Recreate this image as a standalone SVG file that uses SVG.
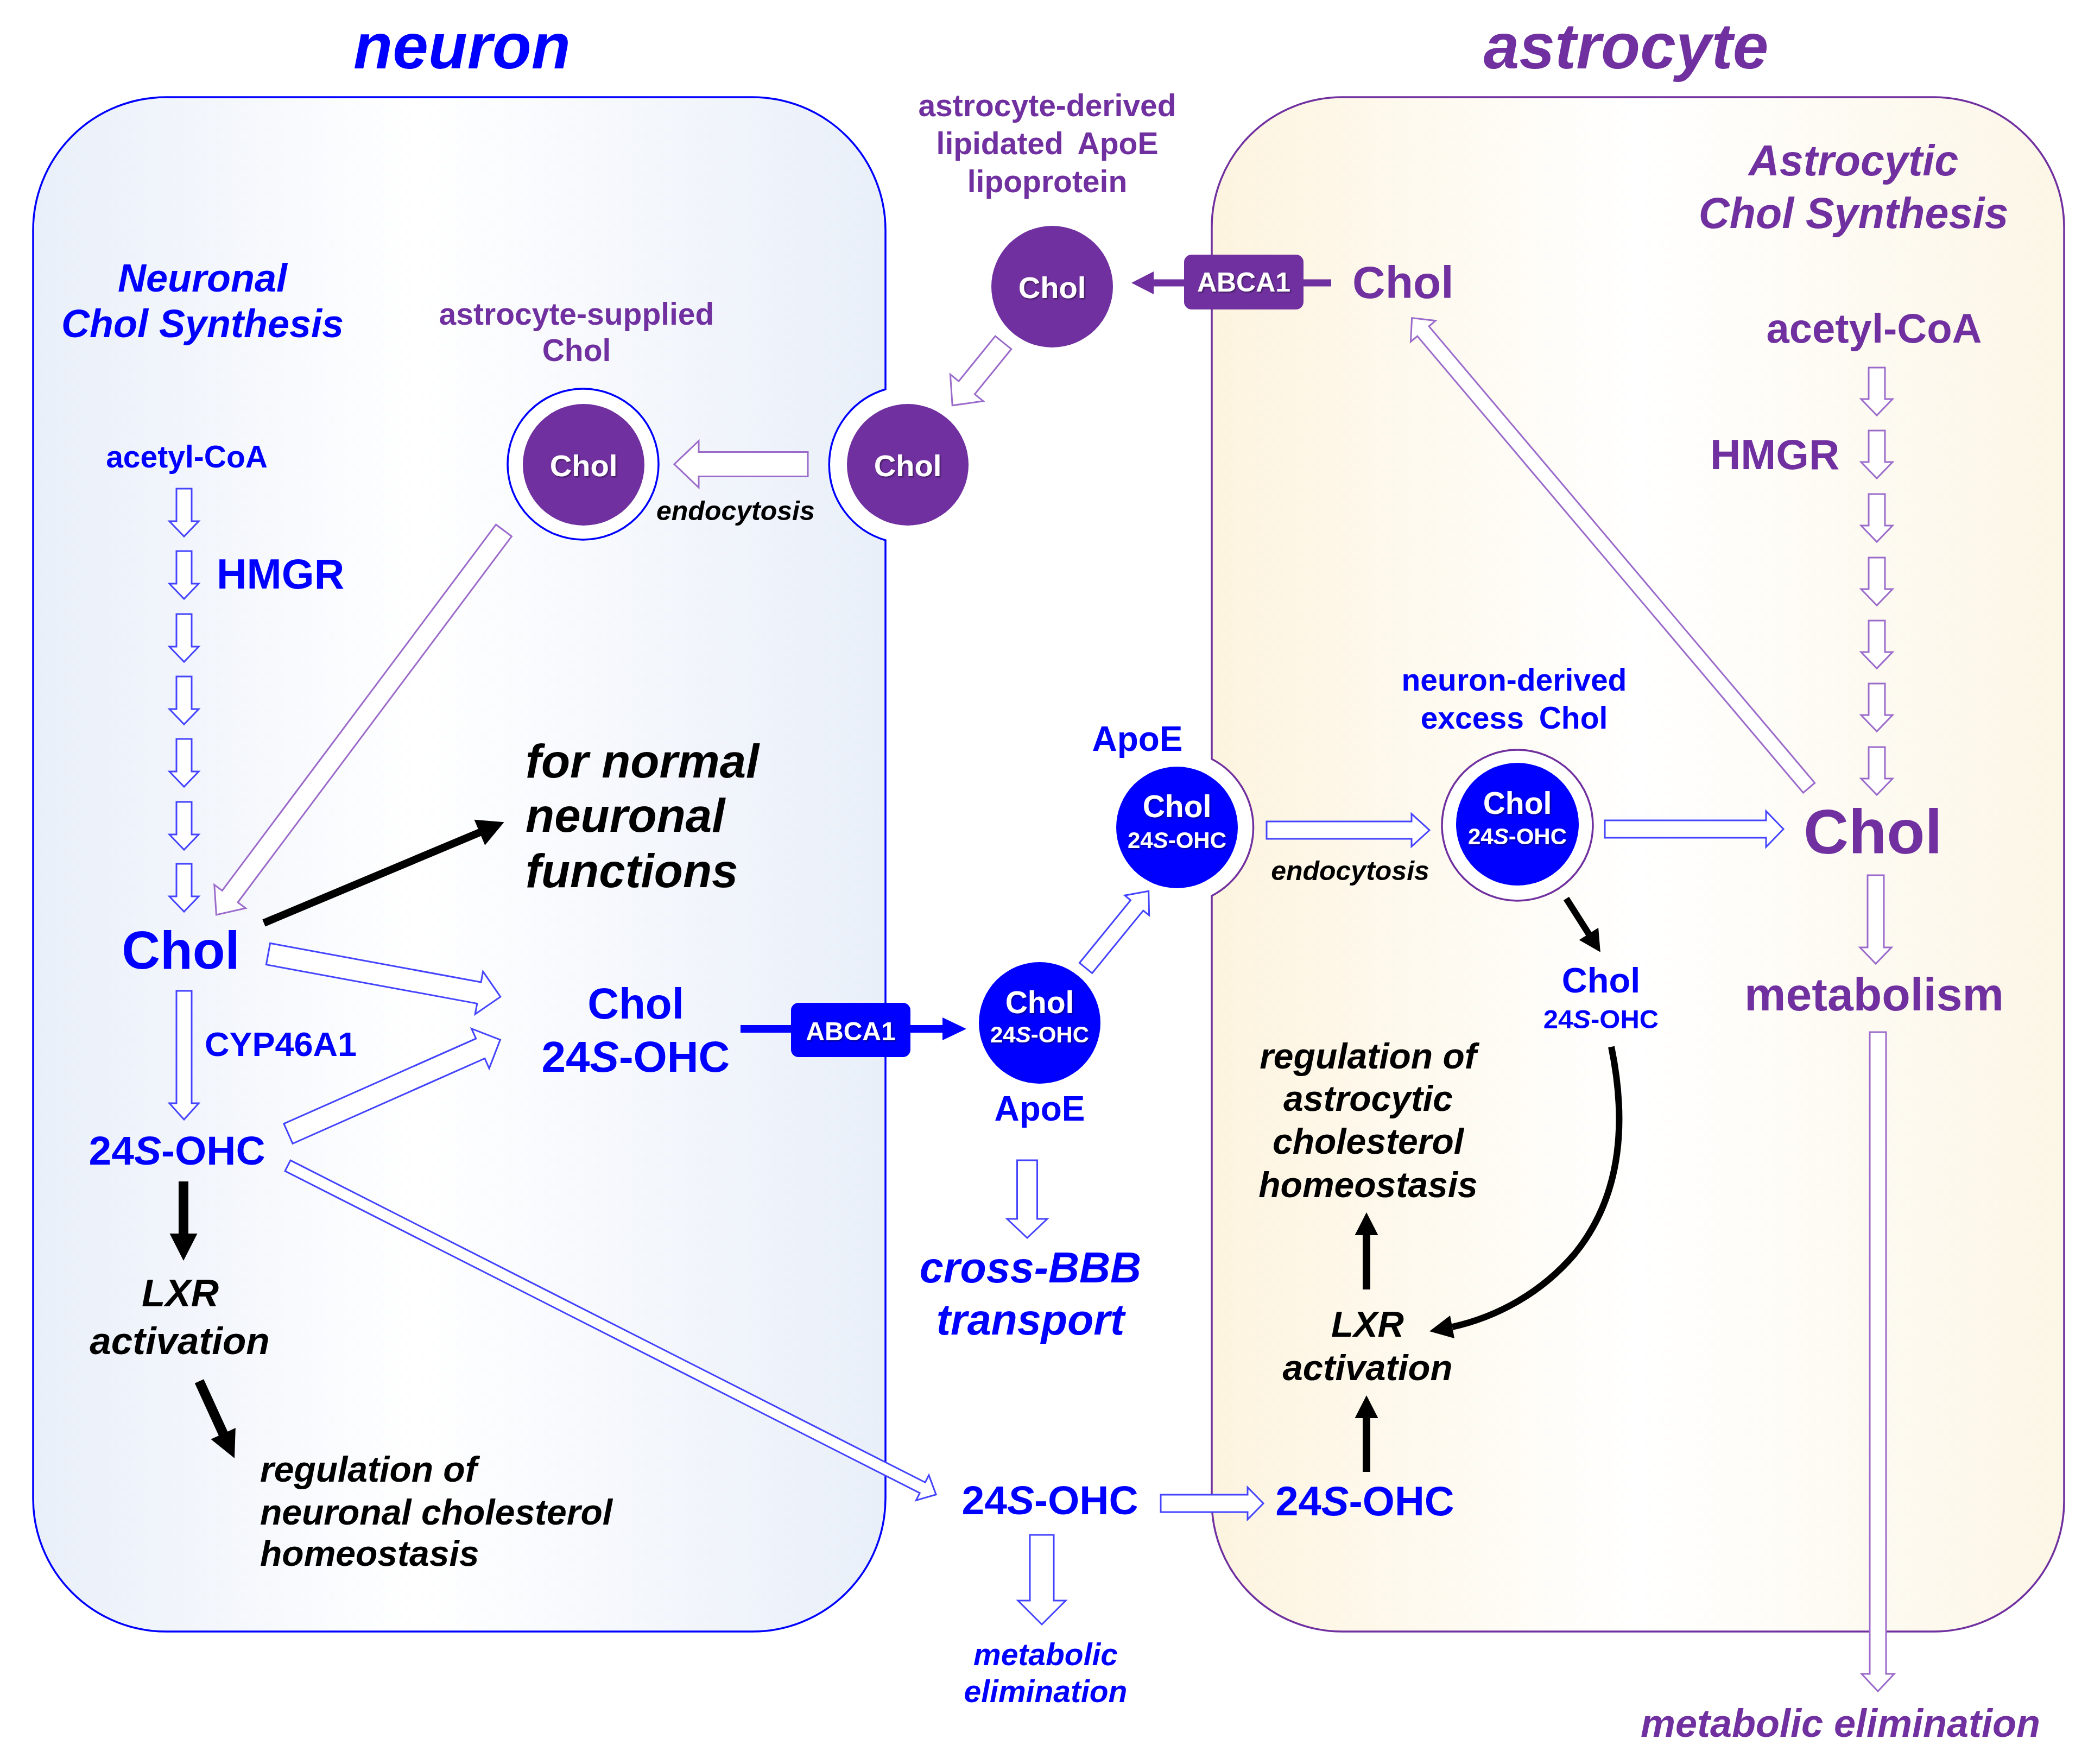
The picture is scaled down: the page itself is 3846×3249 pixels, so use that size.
<svg xmlns="http://www.w3.org/2000/svg" width="3846" height="3249" viewBox="0 0 3846 3249">
<defs>
<style>
.t{font-family:"Liberation Sans",Arial,Helvetica,sans-serif;font-weight:bold}
.i{font-style:italic}
.b{fill:#0000ff}.p{fill:#7030a0}.k{fill:#000}.w{fill:#fff}
.m{text-anchor:middle}
.hb{fill:#fff;stroke:#4444ff;stroke-width:3}
.hp{fill:#fff;stroke:#9b6bcb;stroke-width:3}
.sk{fill:#000}
</style>
<linearGradient id="gN" x1="0" y1="0" x2="1" y2="0">
<stop offset="0" stop-color="#e9eff9"/><stop offset="0.45" stop-color="#ffffff"/><stop offset="1" stop-color="#e9eff9"/>
</linearGradient>
<linearGradient id="gA" x1="0" y1="0" x2="1" y2="0">
<stop offset="0" stop-color="#fdf4df"/><stop offset="0.5" stop-color="#ffffff"/><stop offset="1" stop-color="#fcf6e6"/>
</linearGradient>
<filter id="sh" x="-10%" y="-10%" width="130%" height="130%">
<feDropShadow dx="2" dy="2" stdDeviation="1.5" flood-color="#000" flood-opacity="0.45"/>
</filter>
<path id="sa" d="M0,-14H60V-27L88,0L60,27V14H0Z"/>
<path id="sb" d="M0,-15H58V-29L88,0L58,29V15H0Z"/>
</defs>

<g id="neuron-cell">
<path d="M306,179 H1386 A245,245 0 0 1 1631,424 V717 A145,145 0 0 0 1631,995 V2760 A245,245 0 0 1 1386,3005 H306 A245,245 0 0 1 61,2760 V424 A245,245 0 0 1 306,179 Z" fill="url(#gN)" stroke="#0000ff" stroke-width="3.5"/>
<text class="t i b m" x="851" y="126" font-size="118">neuron</text>
</g>
<g id="astrocyte-cell">
<path d="M2472,179 H3562 A240,240 0 0 1 3802,419 V2765 A240,240 0 0 1 3562,3005 H2472 A240,240 0 0 1 2232,2765 V1650 A142,142 0 0 0 2232,1398 V419 A240,240 0 0 1 2472,179 Z" fill="url(#gA)" stroke="#7030a0" stroke-width="3.5"/>
<text class="t i p m" x="2995" y="126" font-size="118">astrocyte</text>
</g>

<g id="connectors">
<!-- neuron synthesis chain -->
<use href="#sa" class="hb" transform="translate(339,900) rotate(90)"/>
<use href="#sa" class="hb" transform="translate(339,1015) rotate(90)"/>
<use href="#sa" class="hb" transform="translate(339,1131) rotate(90)"/>
<use href="#sa" class="hb" transform="translate(339,1246) rotate(90)"/>
<use href="#sa" class="hb" transform="translate(339,1361) rotate(90)"/>
<use href="#sa" class="hb" transform="translate(339,1477) rotate(90)"/>
<use href="#sa" class="hb" transform="translate(339,1591) rotate(90)"/>
<!-- astrocyte synthesis chain -->
<use href="#sb" class="hp" transform="translate(3457,677) rotate(90)"/>
<use href="#sb" class="hp" transform="translate(3457,793) rotate(90)"/>
<use href="#sb" class="hp" transform="translate(3457,910) rotate(90)"/>
<use href="#sb" class="hp" transform="translate(3457,1027) rotate(90)"/>
<use href="#sb" class="hp" transform="translate(3457,1143) rotate(90)"/>
<use href="#sb" class="hp" transform="translate(3457,1259) rotate(90)"/>
<use href="#sb" class="hp" transform="translate(3457,1376) rotate(90)"/>
<!-- CYP46A1 -->
<path class="hb" transform="translate(339,1825) rotate(90)" d="M0,-14H207V-27L237,0L207,27V14H0Z"/>
<!-- Chol -> Chol/24S -->
<path class="hb" transform="translate(494,1757) rotate(10.46)" d="M0,-20H395V-40L435,0L395,40V20H0Z"/>
<!-- 24S -> Chol/24S -->
<path class="hb" transform="translate(531,2088) rotate(-23.9)" d="M0,-20H387V-40L427,0L387,40V20H0Z"/>
<!-- 24S -> outside 24S -->
<path class="hb" transform="translate(530,2147) rotate(26.9)" d="M0,-11H1311V-26L1339,0L1311,26V11H0Z"/>
<!-- neuron ring -> Chol -->
<path class="hp" transform="translate(928,977) rotate(126.8)" d="M0,-18H842V-36L884,0L842,36V18H0Z"/>
<!-- top Chol -> membrane Chol -->
<path class="hp" transform="translate(1848,631) rotate(129)" d="M0,-19H107V-39L149,0L107,39V19H0Z"/>
<!-- membrane Chol -> neuron ring (endocytosis) -->
<path class="hp" transform="translate(1488,855) rotate(180)" d="M0,-22.5H201V-43L246,0L201,43V22.5H0Z"/>
<!-- big astro Chol -> Chol at ABCA1 -->
<path class="hp" transform="translate(3332,1451) rotate(-130.2)" d="M0,-14H1101V-30L1133,0L1101,30V14H0Z"/>
<!-- lower ApoE -> upper ApoE -->
<path class="hb" transform="translate(2000,1783) rotate(-50.8)" d="M0,-15H149V-29L183,0L149,29V15H0Z"/>
<!-- ApoE -> neuron-derived (endocytosis) -->
<path class="hb" transform="translate(2333,1529)" d="M0,-16H267V-30L300,0L267,30V16H0Z"/>
<!-- neuron-derived -> Chol -->
<path class="hb" transform="translate(2956,1527)" d="M0,-16H297V-33L329,0L297,33V16H0Z"/>
<!-- Chol -> metabolism -->
<path class="hp" transform="translate(3455,1612) rotate(90)" d="M0,-15H133V-29L163,0L133,29V15H0Z"/>
<!-- metabolism -> metabolic elimination -->
<path class="hp" transform="translate(3459,1901) rotate(90)" d="M0,-15H1182V-30L1214,0L1182,30V15H0Z"/>
<!-- ApoE -> cross-BBB -->
<path class="hb" transform="translate(1892,2137) rotate(90)" d="M0,-18.5H108V-37L143,0L108,37V18.5H0Z"/>
<!-- outside 24S -> astro 24S -->
<path class="hb" transform="translate(2138,2769)" d="M0,-16H160V-29.5L189,0L160,29.5V16H0Z"/>
<!-- outside 24S -> metabolic elimination -->
<path class="hb" transform="translate(1919,2827) rotate(90)" d="M0,-22H121V-44L165,0L121,44V22H0Z"/>

<!-- black arrows -->
<path class="sk" transform="translate(486,1700) rotate(-22.77)" d="M0,-7H431V-25.5L480,0L431,25.5V7H0Z"/>
<path class="sk" transform="translate(338,2176) rotate(90)" d="M0,-9H96V-25.5L146,0L96,25.5V9H0Z"/>
<path class="sk" transform="translate(367,2544) rotate(65.4)" d="M0,-9H106V-25L156,0L106,25V9H0Z"/>
<path class="sk" transform="translate(2885,1655) rotate(57.5)" d="M0,-6H77V-21L117,0L77,21V6H0Z"/>
<path class="sk" transform="translate(2517,2375) rotate(-90)" d="M0,-7H100V-21.5L142,0L100,21.5V7H0Z"/>
<path class="sk" transform="translate(2517,2711) rotate(-90)" d="M0,-7H99V-21.5L141,0L99,21.5V7H0Z"/>
<path d="M2968,1928 C2995,2060 2990,2200 2900,2310 C2840,2380 2760,2425 2675,2444" fill="none" stroke="#000" stroke-width="12"/>
<polygon class="sk" points="2633,2452 2671,2423 2679,2465"/>

<!-- ABCA1 connectors -->
<line x1="1364" y1="1895" x2="1460" y2="1895" stroke="#0000ff" stroke-width="14"/>
<line x1="1675" y1="1895" x2="1738" y2="1895" stroke="#0000ff" stroke-width="14"/>
<polygon points="1736,1874 1780,1895 1736,1916" fill="#0000ff"/>
<line x1="2398" y1="521" x2="2452" y2="521" stroke="#7030a0" stroke-width="13"/>
<line x1="2123" y1="521" x2="2184" y2="521" stroke="#7030a0" stroke-width="13"/>
<polygon points="2125,500 2084,521 2125,542" fill="#7030a0"/>
</g>

<g id="neuronal-synthesis">
<text class="t i b m" x="373" y="537" font-size="72">Neuronal</text>
<text class="t i b m" x="373" y="621" font-size="72">Chol Synthesis</text>
<text class="t b m" x="344" y="861" font-size="57">acetyl-CoA</text>
<text class="t b" x="399" y="1084" font-size="77">HMGR</text>
</g>
<g id="neuron-chol">
<text class="t b m" x="333" y="1784" font-size="98">Chol</text>
</g>
<g id="normal-functions">
<text class="t i k" x="968" y="1432" font-size="87">for normal</text>
<text class="t i k" x="968" y="1532" font-size="87">neuronal</text>
<text class="t i k" x="968" y="1634" font-size="87">functions</text>
</g>
<g id="cyp46a1">
<text class="t b" x="377" y="1945" font-size="63">CYP46A1</text>
</g>
<g id="neuron-24s">
<text class="t b m" x="326" y="2145" font-size="75">24<tspan class="i">S</tspan>-OHC</text>
</g>
<g id="neuron-chol-24s">
<text class="t b m" x="1171" y="1876" font-size="80">Chol</text>
<text class="t b m" x="1171" y="1974" font-size="80">24<tspan class="i">S</tspan>-OHC</text>
</g>
<g id="neuron-lxr">
<text class="t i k m" x="332" y="2406" font-size="71">LXR</text>
<text class="t i k m" x="331" y="2494" font-size="71">activation</text>
</g>
<g id="neuron-regulation">
<text class="t i k" x="479" y="2729" font-size="66">regulation of</text>
<text class="t i k" x="479" y="2808" font-size="66">neuronal cholesterol</text>
<text class="t i k" x="479" y="2884" font-size="66">homeostasis</text>
</g>
<g id="astrocyte-supplied-chol">
<text class="t p m" x="1062" y="598" font-size="57">astrocyte-supplied</text>
<text class="t p m" x="1062" y="665" font-size="57">Chol</text>
<circle cx="1074" cy="855" r="139" fill="#fff" stroke="#0000ff" stroke-width="3.5"/>
<circle cx="1075" cy="856" r="112" fill="#7030a0"/>
<text class="t w m" x="1075" y="877" font-size="56" filter="url(#sh)">Chol</text>
<text class="t i k" x="1209" y="958" font-size="50">endocytosis</text>
</g>
<g id="membrane-chol">
<circle cx="1672" cy="856" r="112" fill="#7030a0"/>
<text class="t w m" x="1672" y="877" font-size="56" filter="url(#sh)">Chol</text>
</g>
<g id="lipoprotein">
<text class="t p m" x="1929" y="214" font-size="57">astrocyte-derived</text>
<text class="t p m" x="1929" y="284" font-size="57" word-spacing="12">lipidated ApoE</text>
<text class="t p m" x="1929" y="354" font-size="57">lipoprotein</text>
<circle cx="1938" cy="528" r="112" fill="#7030a0"/>
<text class="t w m" x="1938" y="549" font-size="56" filter="url(#sh)">Chol</text>
</g>
<g id="abca1-astro">
<rect x="2181" y="469" width="220" height="101" rx="14" fill="#7030a0"/>
<text class="t w m" x="2291" y="537" font-size="50" filter="url(#sh)">ABCA1</text>
</g>
<g id="astro-chol-top">
<text class="t p" x="2491" y="549" font-size="84">Chol</text>
</g>
<g id="abca1-neuron">
<rect x="1457" y="1847" width="220" height="100" rx="14" fill="#0000ff"/>
<text class="t w m" x="1567" y="1916" font-size="48" filter="url(#sh)">ABCA1</text>
</g>
<g id="apoe-lower">
<circle cx="1915" cy="1884" r="112" fill="#0000ff"/>
<text class="t w m" x="1915" y="1866" font-size="57" filter="url(#sh)">Chol</text>
<text class="t w m" x="1915" y="1920" font-size="42" filter="url(#sh)">24<tspan class="i">S</tspan>-OHC</text>
<text class="t b m" x="1915" y="2064" font-size="64">ApoE</text>
</g>
<g id="apoe-upper">
<text class="t b m" x="2095" y="1383" font-size="64">ApoE</text>
<circle cx="2168" cy="1524" r="112" fill="#0000ff"/>
<text class="t w m" x="2168" y="1505" font-size="57" filter="url(#sh)">Chol</text>
<text class="t w m" x="2168" y="1562" font-size="42" filter="url(#sh)">24<tspan class="i">S</tspan>-OHC</text>
</g>
<g id="cross-bbb">
<text class="t i b m" x="1898" y="2362" font-size="79">cross-BBB</text>
<text class="t i b m" x="1898" y="2458" font-size="79">transport</text>
</g>
<g id="outside-24s">
<text class="t b m" x="1934" y="2789" font-size="75">24<tspan class="i">S</tspan>-OHC</text>
</g>
<g id="metabolic-elimination-24s">
<text class="t i b m" x="1926" y="3067" font-size="57">metabolic</text>
<text class="t i b m" x="1926" y="3135" font-size="57">elimination</text>
</g>
<g id="astrocytic-synthesis">
<text class="t i p m" x="3414" y="323" font-size="79">Astrocytic</text>
<text class="t i p m" x="3414" y="420" font-size="79">Chol Synthesis</text>
<text class="t p m" x="3452" y="631" font-size="76">acetyl-CoA</text>
<text class="t p" x="3150" y="864" font-size="78">HMGR</text>
</g>
<g id="neuron-derived">
<text class="t b m" x="2789" y="1272" font-size="57">neuron-derived</text>
<text class="t b m" x="2789" y="1342" font-size="57" word-spacing="12">excess Chol</text>
<circle cx="2795" cy="1520" r="139" fill="#fff" stroke="#7030a0" stroke-width="3.5"/>
<circle cx="2795" cy="1518" r="113" fill="#0000ff"/>
<text class="t w m" x="2795" y="1499" font-size="57" filter="url(#sh)">Chol</text>
<text class="t w m" x="2795" y="1555" font-size="42" filter="url(#sh)">24<tspan class="i">S</tspan>-OHC</text>
<text class="t i k m" x="2487" y="1621" font-size="50">endocytosis</text>
</g>
<g id="astro-chol-big">
<text class="t p" x="3322" y="1572" font-size="115">Chol</text>
</g>
<g id="metabolism">
<text class="t p m" x="3452" y="1861" font-size="86">metabolism</text>
</g>
<g id="astro-chol-24s">
<text class="t b m" x="2949" y="1828" font-size="65">Chol</text>
<text class="t b m" x="2949" y="1894" font-size="49">24<tspan class="i">S</tspan>-OHC</text>
</g>
<g id="astro-regulation">
<text class="t i k m" x="2520" y="1968" font-size="66">regulation of</text>
<text class="t i k m" x="2520" y="2046" font-size="66">astrocytic</text>
<text class="t i k m" x="2520" y="2125" font-size="66">cholesterol</text>
<text class="t i k m" x="2520" y="2205" font-size="66">homeostasis</text>
</g>
<g id="astro-lxr">
<text class="t i k m" x="2519" y="2462" font-size="67">LXR</text>
<text class="t i k m" x="2519" y="2542" font-size="67">activation</text>
</g>
<g id="astro-24s">
<text class="t b m" x="2514" y="2791" font-size="76">24<tspan class="i">S</tspan>-OHC</text>
</g>
<g id="metabolic-elimination-chol">
<text class="t i p m" x="3390" y="3199" font-size="72">metabolic elimination</text>
</g>
</svg>
